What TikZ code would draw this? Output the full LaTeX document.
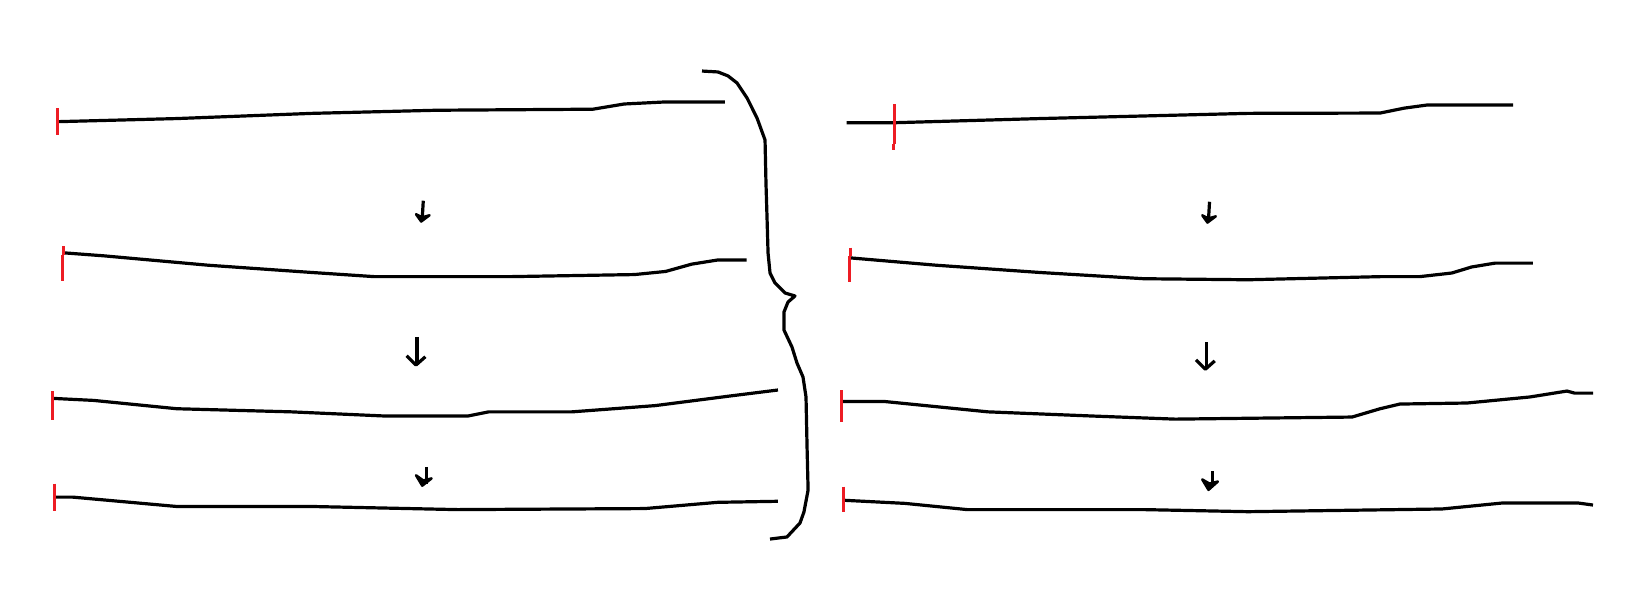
\documentclass[tikz,border=0pt]{standalone}
\definecolor{paintred}{RGB}{237,28,36}
\begin{document}
\begin{tikzpicture}[x=1.04pt,y=-1.04pt,
  stroke/.style={draw=black,line width=3.2pt,line join=round},
  tick/.style={draw=paintred,line width=3pt},
  head/.style={draw=black,fill=black,line width=2.5pt,line join=round}]
\useasboundingbox[fill=white] (0,0) rectangle (1564.4,582.7);
% ---------- left column ----------
\draw[stroke] (55,117) -- (170,114) -- (300,109) -- (420,106) -- (570,105) -- (600,100) -- (640,98) -- (697,98);
\draw[tick] (55,104) -- (55,130);
\draw[stroke] (407,193) -- (406,210);
\draw[head] (400,206) -- (405,213) -- (413,207) -- (406,209) -- cycle;
\draw[stroke] (60,243) -- (100,246) -- (200,255) -- (300,262) -- (360,266) -- (490,266) -- (610,264) -- (640,261) -- (665,254) -- (690,250) -- (718,250);
\draw[tick] (61,237) -- (61,245) (60,245) -- (60,270);
\draw[stroke] (401,324) -- (401,349);
\draw[stroke] (391,342) -- (400,351) -- (409,343);
\draw[stroke] (50,383) -- (90,385) -- (170,393) -- (280,396) -- (370,400) -- (450,400) -- (470,396) -- (550,396) -- (630,390) -- (700,381) -- (748,375);
\draw[tick] (50,376) -- (50,404);
\draw[stroke] (410,449) -- (410,465);
\draw[head] (400,457) -- (406,467) -- (415,460) -- (407,462) -- cycle;
\draw[stroke] (52,478) -- (70,478) -- (170,487) -- (300,487) -- (440,490) -- (620,489) -- (690,483) -- (748,482);
\draw[tick] (52,465) -- (52,491);
% ---------- brace ----------
\draw[stroke] (675,68.3) -- (690.4,69.2) -- (700,73) -- (708.7,79.8) -- (718.3,94.2) -- (727.9,113.5) -- (735.6,134.6) -- (736.5,176) -- (737.5,208.7) -- (738.5,243.3) -- (740.4,262.5) -- (745.2,272.1) -- (754.8,281.7) -- (764.4,284.6) -- (757.7,290.4) -- (753.8,300) -- (753.8,317.3) -- (761.5,333.7) -- (766.3,349) -- (772.1,362.5) -- (775,381.7) -- (776,429.8) -- (777,471.2) -- (773,492.3) -- (769.2,502.9) -- (756.7,516.3) -- (740.4,518.3);
% ---------- right column ----------
\draw[stroke] (814,118) -- (860,118) -- (1000,114) -- (1200,109) -- (1327,108.7) -- (1350,104) -- (1372,101) -- (1455,101);
\draw[tick] (860,100) -- (860,138) (859,138) -- (859,144);
\draw[stroke] (1163,194) -- (1162,211);
\draw[head] (1156,207) -- (1161,214) -- (1169,208) -- (1162,210) -- cycle;
\draw[stroke] (818,248) -- (900,255) -- (1000,262) -- (1100,268) -- (1200,269) -- (1327,266) -- (1365,266) -- (1396,262.5) -- (1415,256.7) -- (1437.5,253) -- (1474,253);
\draw[tick] (818,238) -- (818,246) (817,246) -- (817,271);
\draw[stroke] (1160,329) -- (1160,353);
\draw[stroke] (1150,346) -- (1159,355) -- (1168,347);
\draw[stroke] (809,386) -- (850,386) -- (950,396) -- (1050,400) -- (1130,403) -- (1300,401) -- (1327,393) -- (1346,388.5) -- (1410.6,387.5) -- (1471,381.7) -- (1506.7,376) -- (1514,378) -- (1531.7,378);
\draw[tick] (809,375) -- (809,406);
\draw[stroke] (1166,453) -- (1166,468);
\draw[head] (1156,461) -- (1162,471) -- (1171,463) -- (1163,465) -- cycle;
\draw[stroke] (811,481) -- (870,484) -- (930,490) -- (1100,490) -- (1200,492) -- (1386.5,489.4) -- (1445,483.6) -- (1517,483.6) -- (1531.7,485.6);
\draw[tick] (811,468) -- (811,492);
\end{tikzpicture}
\end{document}
